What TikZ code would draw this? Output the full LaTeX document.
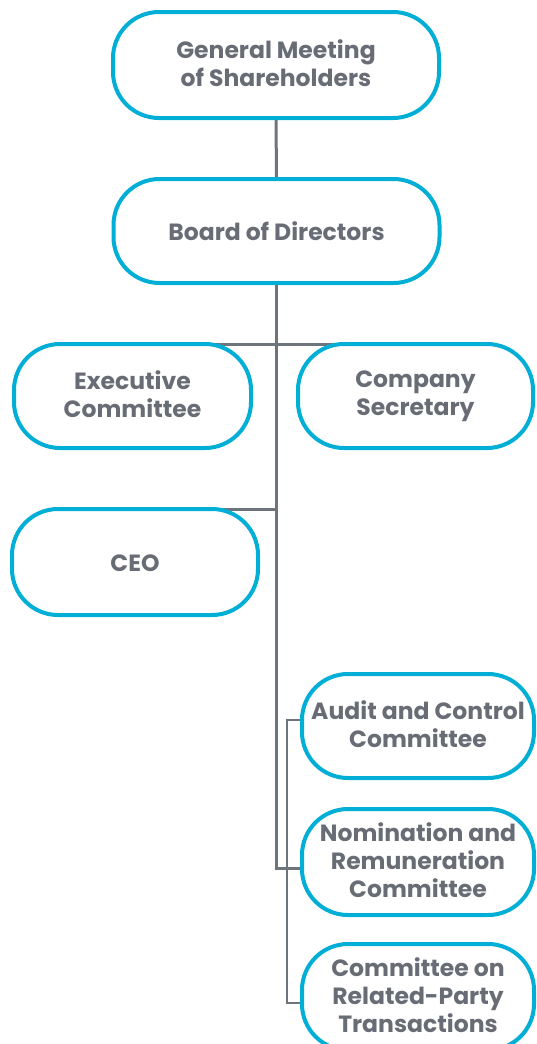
\documentclass[tikz,border=0pt]{standalone}
\usepackage{fontspec}
\newfontfamily\boxfont{Poppins}
\usetikzlibrary{calc}
\definecolor{boxblue}{RGB}{0,174,214}
\definecolor{lngray}{RGB}{110,116,124}
\definecolor{txtgray}{RGB}{104,109,117}
\pgfdeclarelayer{bg}
\pgfsetlayers{bg,main}
\newcommand{\boxstrut}{\rule[-4.75pt]{0pt}{27.5pt}}
\tikzset{
  orgbox/.style={draw=boxblue, line width=4pt, fill=white, rounded corners=46pt,
    minimum height=106pt, inner sep=0pt, outer sep=0pt, align=center, text=txtgray,
    font=\boxfont\bfseries\fontsize{23.5}{28}\selectfont,
    execute at begin node={\boxstrut}, execute at end node={\boxstrut}},
  conn/.style={draw=lngray, line width=3pt},
  thinconn/.style={draw=lngray, line width=2pt}
}
\begin{document}
\begin{tikzpicture}[x=1pt,y=-1pt]
\useasboundingbox (0,0) rectangle (536,1044);
\clip (0,0) rectangle (536,1044);
\node[orgbox, minimum width=326pt] (gm) at (276,65) {General Meeting\\of Shareholders};
\node[orgbox, minimum width=326pt, minimum height=104pt] (bod) at (276.5,231) {Board of Directors};
\node[orgbox, minimum width=237pt, minimum height=104pt] (exec) at (132.5,396) {Executive\\Committee};
\node[orgbox, minimum width=235pt, minimum height=104pt] (sec) at (415.5,396) {Company\\Secretary};
\node[orgbox, minimum width=246pt] (ceo) at (135,562) {CEO};
\node[orgbox, minimum width=232pt, minimum height=104pt] (audit) at (418,726) {Audit and Control\\Committee};
\node[orgbox, minimum width=232pt] (nom) at (418,862) {Nomination and\\Remuneration\\Committee};
\node[orgbox, minimum width=232pt] (rpt) at (418,997) {Committee on\\Related-Party\\Transactions};
\begin{pgfonlayer}{bg}
\draw[conn] (gm.south) -- (bod.north);
\draw[conn] (exec.north) -- (sec.north);
\draw[conn] (ceo.north) -- (ceo.north -| bod.south);
\draw[conn] (bod.south) |- ($(nom.west)+(0,6)$);
\draw[thinconn] ($(audit.west)+(0,-6)$) -- ++(-15,0) |- ($(rpt.west)+(0,6)$);
\end{pgfonlayer}
\end{tikzpicture}
\end{document}
